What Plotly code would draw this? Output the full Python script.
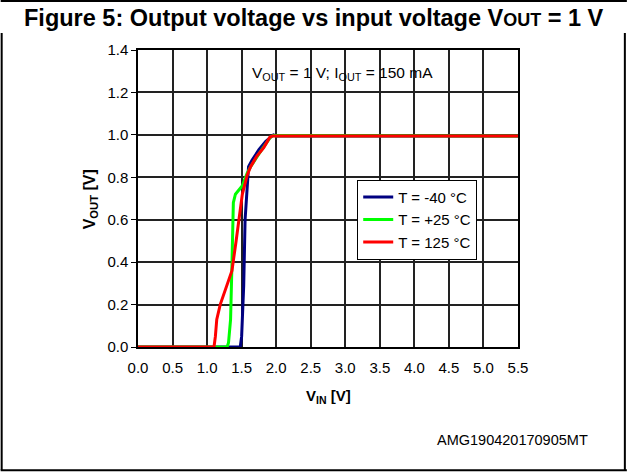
import plotly.graph_objects as go

# Data
vin_m40 = [0, 1.48, 1.50, 1.53, 1.55, 1.58, 1.60, 1.65, 1.75, 1.85, 1.92, 1.96, 2.0, 5.5]
vout_m40 = [0, 0, 0.05, 0.29, 0.60, 0.77, 0.85, 0.88, 0.93, 0.97, 0.99, 1.0, 0.995, 0.995]

vin_25 = [0, 1.29, 1.31, 1.34, 1.36, 1.38, 1.41, 1.51, 1.58, 1.63, 1.75, 1.85, 1.92, 1.96, 5.5]
vout_25 = [0, 0, 0.02, 0.13, 0.39, 0.68, 0.72, 0.76, 0.82, 0.85, 0.91, 0.96, 0.99, 0.997, 0.995]

vin_125 = [0, 1.10, 1.12, 1.14, 1.19, 1.24, 1.30, 1.36, 1.42, 1.46, 1.51, 1.58, 1.63, 1.72, 1.82, 1.91, 1.95, 5.5]
vout_125 = [0, 0, 0.05, 0.13, 0.20, 0.25, 0.30, 0.36, 0.50, 0.61, 0.72, 0.81, 0.85, 0.90, 0.94, 0.99, 0.995, 0.995]

names = ["T = -40 °C", "T = +25 °C", "T = 125 °C"]
colors = ["#000080", "#00ff00", "#ff0000"]

x_ticks = [0.0, 0.5, 1.0, 1.5, 2.0, 2.5, 3.0, 3.5, 4.0, 4.5, 5.0, 5.5]
y_ticks = [0.0, 0.2, 0.4, 0.6, 0.8, 1.0, 1.2, 1.4]

W, H = 627, 473
L, R, T, B = 137.5, 518.0, 50.0, 347.5

fig = go.Figure()
for xs, ys, n, c in zip([vin_m40, vin_25, vin_125], [vout_m40, vout_25, vout_125], names, colors):
    fig.add_trace(go.Scatter(x=xs, y=ys, mode="lines", name=n,
                             line=dict(color=c, width=3)))

def px2paper_x(px):
    return (px - L) / (R - L)

def px2paper_y(py):
    return (B - py) / (B - T)

font = "Arial, Liberation Sans, sans-serif"

shapes = [
    dict(type="line", xref="paper", yref="paper", x0=px2paper_x(0), x1=px2paper_x(627),
         y0=px2paper_y(1), y1=px2paper_y(1), line=dict(color="black", width=2)),
    dict(type="line", xref="paper", yref="paper", x0=px2paper_x(1), x1=px2paper_x(1),
         y0=px2paper_y(33), y1=px2paper_y(471), line=dict(color="black", width=2)),
    dict(type="line", xref="paper", yref="paper", x0=px2paper_x(625), x1=px2paper_x(625),
         y0=px2paper_y(33), y1=px2paper_y(471), line=dict(color="black", width=2)),
    dict(type="line", xref="paper", yref="paper", x0=px2paper_x(0), x1=px2paper_x(627),
         y0=px2paper_y(471), y1=px2paper_y(471), line=dict(color="black", width=2)),
]

annotations = [
    dict(text="<b>Figure 5: Output voltage vs input voltage V<span style='font-size:18px'>OUT</span> = 1 V</b>",
         xref="paper", yref="paper", x=px2paper_x(314), y=px2paper_y(18),
         xanchor="center", yanchor="middle", showarrow=False,
         font=dict(family=font, size=23.5, color="black")),
    dict(text="V<sub>OUT</sub> = 1 V; I<sub>OUT</sub> = 150 mA",
         xref="paper", yref="paper", x=px2paper_x(342), y=px2paper_y(74),
         xanchor="center", yanchor="middle", showarrow=False,
         font=dict(family=font, size=15.5, color="black")),
    dict(text="<b>V<sub>IN</sub> [V]</b>",
         xref="paper", yref="paper", x=px2paper_x(328), y=px2paper_y(397),
         xanchor="center", yanchor="middle", showarrow=False,
         font=dict(family=font, size=15, color="black")),
    dict(text="<b>V<sub>OUT</sub> [V]</b>", textangle=-90,
         xref="paper", yref="paper", x=px2paper_x(90), y=px2paper_y(200),
         xanchor="center", yanchor="middle", showarrow=False,
         font=dict(family=font, size=16, color="black")),
    dict(text="AMG190420170905MT",
         xref="paper", yref="paper", x=px2paper_x(512), y=px2paper_y(441),
         xanchor="center", yanchor="middle", showarrow=False,
         font=dict(family=font, size=14.5, color="black")),
]

fig.update_layout(
    width=W, height=H,
    margin=dict(l=L, r=W - R, t=T, b=H - B, pad=0),
    paper_bgcolor="white", plot_bgcolor="white",
    font=dict(family=font, size=15, color="black"),
    showlegend=True,
    legend=dict(x=px2paper_x(357), y=px2paper_y(180), xanchor="left", yanchor="top",
                bgcolor="white", bordercolor="black", borderwidth=1,
                font=dict(family=font, size=15, color="black")),
    shapes=shapes,
    annotations=annotations,
)
fig.update_xaxes(range=[0, 5.5], tickvals=x_ticks, ticktext=[f"{v:.1f}" for v in x_ticks],
                 showgrid=True, gridcolor="#222222", gridwidth=1.5,
                 showline=True, linecolor="black", linewidth=1.5, mirror=True,
                 zeroline=False, ticks="", ticklabelstandoff=6,
                 tickfont=dict(family=font, size=15, color="black"))
fig.update_yaxes(range=[0, 1.4], tickvals=y_ticks, ticktext=[f"{v:.1f}" for v in y_ticks],
                 showgrid=True, gridcolor="#222222", gridwidth=1.5,
                 showline=True, linecolor="black", linewidth=1.5, mirror=True,
                 zeroline=False, ticks="outside", ticklen=5, tickcolor="black",
                 tickfont=dict(family=font, size=15, color="black"))

fig.write_html("out.html", config={"displayModeBar": False},
               post_script="document.body.style.margin='0';document.body.style.overflow='hidden';")
